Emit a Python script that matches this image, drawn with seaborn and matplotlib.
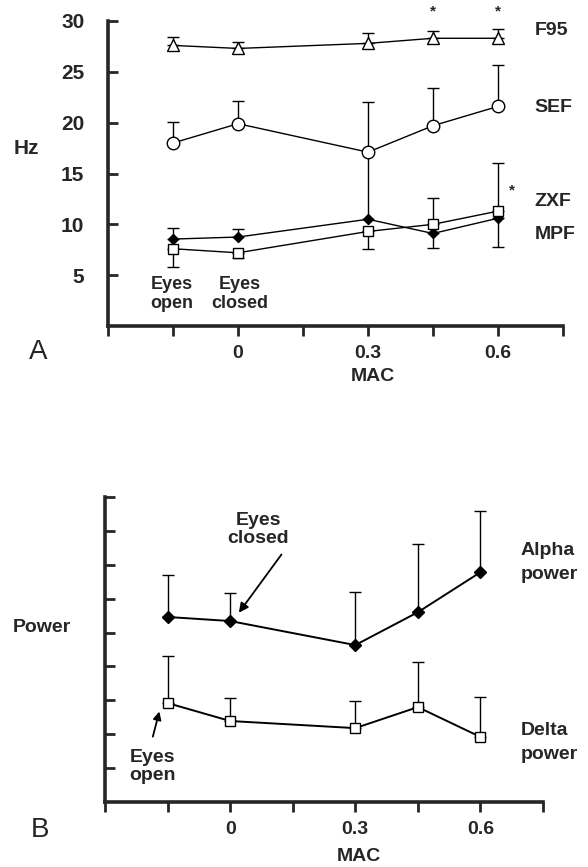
import matplotlib
matplotlib.use("Agg")
import matplotlib.pyplot as plt
import seaborn as sns
import pandas as pd
import numpy as np

# --- Panel A : EEG frequencies (Hz) ---
mac = [-0.15, 0.0, 0.3, 0.45, 0.6]
f95 = [27.6, 27.3, 27.8, 28.3, 28.3]
f95_hi = [28.4, 27.9, 28.8, 29.0, 29.2]
sef = [18.0, 19.9, 17.1, 19.7, 21.6]
sef_hi = [20.1, 22.1, 22.0, 23.4, 25.7]
zxf = [7.6, 7.2, 9.3, 10.0, 11.3]
zxf_lo = [5.8, 6.7, 7.6, 10.0, 11.3]
zxf_hi = [7.6, 7.2, 9.3, 12.6, 16.0]
mpf = [8.55, 8.75, 10.5, 9.1, 10.6]
mpf_lo = [8.55, 8.75, 10.5, 7.7, 7.8]
mpf_hi = [9.6, 9.5, 17.1, 9.1, 10.6]

# --- Panel B : power (arbitrary units) ---
alpha = [5.46, 5.34, 4.63, 5.6, 6.78]
alpha_hi = [6.7, 6.17, 6.19, 7.61, 8.58]
delta = [2.92, 2.39, 2.18, 2.8, 1.92]
delta_hi = [4.31, 3.07, 2.98, 4.13, 3.1]

xticks = [-0.3, -0.15, 0, 0.15, 0.3, 0.45, 0.6, 0.75]
xticklabels = ["", "", "0", "", "0.3", "", "0.6", ""]

sns.set_style("ticks")
plt.rcParams["font.family"] = ["Liberation Sans", "DejaVu Sans"]

fig = plt.figure(figsize=(5.88, 8.67), dpi=100)
axA = fig.add_axes([108 / 588, 1 - 326 / 867, 455 / 588, 305 / 867])
axB = fig.add_axes([105 / 588, 1 - 802 / 867, 438 / 588, 305 / 867])


def draw_series(ax, y, lo, hi, marker, ms, face, lw):
    y = np.asarray(y)
    yerr = [y - np.asarray(lo), np.asarray(hi) - y]
    ax.errorbar(mac, y, yerr=yerr, fmt="none", ecolor="black",
                elinewidth=1, capsize=4, capthick=1, zorder=1)
    df = pd.DataFrame({"MAC": mac, "val": y})
    sns.lineplot(data=df, x="MAC", y="val", ax=ax, color="black", lw=lw,
                 marker=marker, markersize=ms, markerfacecolor=face,
                 markeredgecolor="black", markeredgewidth=1, zorder=3,
                 estimator=None, sort=False)


def style_axes(ax, ymax, yticks, yticklabels):
    ax.set_xlim(-0.3, 0.75)
    ax.set_ylim(0, ymax)
    ax.set_xticks(xticks)
    ax.set_xticklabels(xticklabels)
    ax.set_yticks(yticks)
    ax.set_yticklabels(yticklabels)
    ax.set_xlabel("")
    ax.set_ylabel("")
    sns.despine(ax=ax)
    for s in ("left", "bottom"):
        ax.spines[s].set_linewidth(2.6)
    ax.tick_params(axis="x", direction="out", length=7, width=2, pad=7,
                   labelsize=14)
    ax.tick_params(axis="y", direction="in", length=7, width=2, pad=17,
                   labelsize=15)
    for lab in ax.get_xticklabels() + ax.get_yticklabels():
        lab.set_fontweight("bold")


# ---------- A ----------
draw_series(axA, f95, f95, f95_hi, "^", 8, "white", 1)
draw_series(axA, mpf, mpf_lo, mpf_hi, "D", 5.5, "black", 1)
draw_series(axA, zxf, zxf_lo, zxf_hi, "s", 6.5, "white", 1)
draw_series(axA, sef, sef, sef_hi, "o", 9, "white", 1)
style_axes(axA, 30, [5, 10, 15, 20, 25, 30], ["5", "10", "15", "20", "25", "30"])

for x, y in [(0.45, 30.9), (0.6, 30.9), (0.632, 13.3)]:
    axA.text(x, y, "*", ha="center", va="center", fontsize=11,
             fontweight="bold", clip_on=False)
for lab, y in [("F95", 29.1), ("SEF", 21.5), ("ZXF", 12.2), ("MPF", 9.0)]:
    axA.text(0.685, y, lab, ha="left", va="center", fontsize=14,
             fontweight="bold", clip_on=False)
axA.text(-0.152, 3.15, "Eyes\nopen", ha="center", va="center", fontsize=13,
         fontweight="bold", linespacing=1.15)
axA.text(0.005, 3.15, "Eyes\nclosed", ha="center", va="center", fontsize=13,
         fontweight="bold", linespacing=1.15)
axA.text(0.582, -0.167, "MAC", transform=axA.transAxes, ha="center",
         va="center", fontsize=14, fontweight="bold")
fig.text(26 / 588, 1 - 148 / 867, "Hz", ha="center", va="center",
         fontsize=15, fontweight="bold")
fig.text(38 / 588, 1 - 352 / 867, "A", ha="center", va="center", fontsize=20)

# ---------- B ----------
draw_series(axB, alpha, alpha, alpha_hi, "D", 6, "black", 1.4)
draw_series(axB, delta, delta, delta_hi, "s", 7, "white", 1.4)
style_axes(axB, 9, list(range(1, 10)), [""] * 9)

for lab, y in [("Alpha", 7.43), ("power", 6.70), ("Delta", 2.12), ("power", 1.39)]:
    axB.text(0.696, y, lab, ha="left", va="center", fontsize=14,
             fontweight="bold", clip_on=False)

axB.text(0.067, 8.05, "Eyes\nclosed", ha="center", va="center", fontsize=14,
         fontweight="bold", linespacing=1.1)
axB.annotate("", xy=(0.017, 5.52), xytext=(0.127, 7.37),
             arrowprops=dict(arrowstyle="-|>", color="black", lw=1.3,
                             mutation_scale=14))
axB.text(-0.187, 1.05, "Eyes\nopen", ha="center", va="center", fontsize=14,
         fontweight="bold", linespacing=1.1)
axB.annotate("", xy=(-0.168, 2.75), xytext=(-0.187, 1.85),
             arrowprops=dict(arrowstyle="-|>", color="black", lw=1.3,
                             mutation_scale=12))
axB.text(0.579, -0.18, "MAC", transform=axB.transAxes, ha="center",
         va="center", fontsize=14, fontweight="bold")
fig.text(42 / 588, 1 - 628 / 867, "Power", ha="center", va="center",
         fontsize=14, fontweight="bold")
fig.text(40 / 588, 1 - 830 / 867, "B", ha="center", va="center", fontsize=20)

fig.savefig("out.png", dpi=100)
